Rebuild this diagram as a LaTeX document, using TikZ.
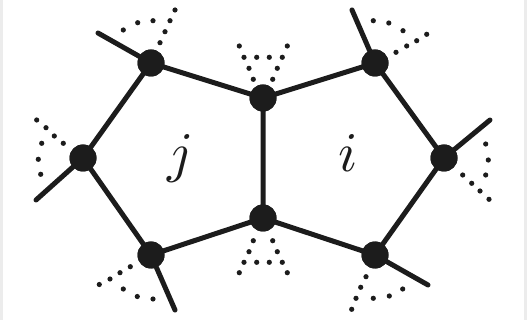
\documentclass[tikz,border=0pt]{standalone}
\begin{document}
\begin{tikzpicture}[x=1pt,y=-1pt,
  ink/.style={draw=inkc,line width=5pt,line cap=round},
  vtx/.style={circle,fill=inkc,inner sep=0pt,minimum size=27pt},
  dotc/.style={fill=inkc},
  lbl/.style={inner sep=0pt,anchor=base,text=inkc}]
\definecolor{inkc}{RGB}{28,28,28}
\definecolor{edgegray}{RGB}{236,236,236}
\useasboundingbox (0,0) rectangle (527,320);
\fill[white] (0,0) rectangle (527,320);
\fill[edgegray] (0,0) rectangle (3,320);
\fill[edgegray] (524,0) rectangle (527,320);
% vertices
\node[vtx] (A) at (151,63) {};
\node[vtx] (B) at (83,158) {};
\node[vtx] (C) at (151,255) {};
\node[vtx] (D) at (263,98) {};
\node[vtx] (E) at (263,218) {};
\node[vtx] (F) at (375,63) {};
\node[vtx] (G) at (444,158) {};
\node[vtx] (H) at (375,255) {};
% stub ends
\coordinate (a) at (98,33);
\coordinate (b) at (36,200);
\coordinate (c) at (175,310);
\coordinate (f) at (352,10);
\coordinate (g) at (490,120);
\coordinate (h) at (428,285);
% edges
\draw[ink] (A.center) -- (B.center) -- (C.center) -- (E.center) -- (D.center) -- (A.center);
\draw[ink] (D.center) -- (F.center) -- (G.center) -- (H.center) -- (E.center);
\draw[ink] (A.center) -- (a);
\draw[ink] (B.center) -- (b);
\draw[ink] (C.center) -- (c);
\draw[ink] (F.center) -- (f);
\draw[ink] (G.center) -- (g);
\draw[ink] (H.center) -- (h);
% redraw vertices on top
\foreach \v in {A,B,C,D,E,F,G,H} \fill[inkc] (\v) circle (13.5);
% dotted fans
\foreach \p in {(160,42.7),(165,31.7),(170,20.7),(175,10),(153,20.7),(137.7,22.7),(123.3,30),
  (253.3,79.3),(272.7,79.3),(249,68.3),(277.3,68.3),(244,57.3),(256.7,57.3),(269.3,57.3),(282.3,57.3),(239.3,46),(287.3,46),
  (373.3,20.7),(388.8,23),(403,30.7),(426.7,34.3),(416.7,40.7),(406.7,46),(396,52.3),
  (36.7,120),(46,127.7),(54.3,136),(63.3,143.3),(41.7,143.3),(38.3,159.3),(40.7,174.3),
  (485.7,144),(488.3,160),(485.7,175),(462.7,175),(471.7,183.3),(480,191),(489,199.3),
  (130.3,266.7),(120,272.7),(110,279),(99.3,284.5),(123.3,289),(137.3,296.5),(153,299),
  (253.3,240.7),(272.7,240.7),(249,251.7),(277.3,251.7),(244,262.3),(256.7,262.3),(269.3,262.3),(282.3,262.3),(239.3,272.7),(287.3,272.7),
  (366,276.7),(360.7,287.3),(356,298.3),(351.7,309.3),(373.3,298.3),(389.3,296),(402.7,289)}
  \fill[dotc] \p circle (2.6);
% labels
\node[lbl] (lj) at (181,172) {\scalebox{5.6}{$j$}};
\node[lbl] (li) at (348,172) {\scalebox{5.6}{$i$}};
\end{tikzpicture}
\end{document}
